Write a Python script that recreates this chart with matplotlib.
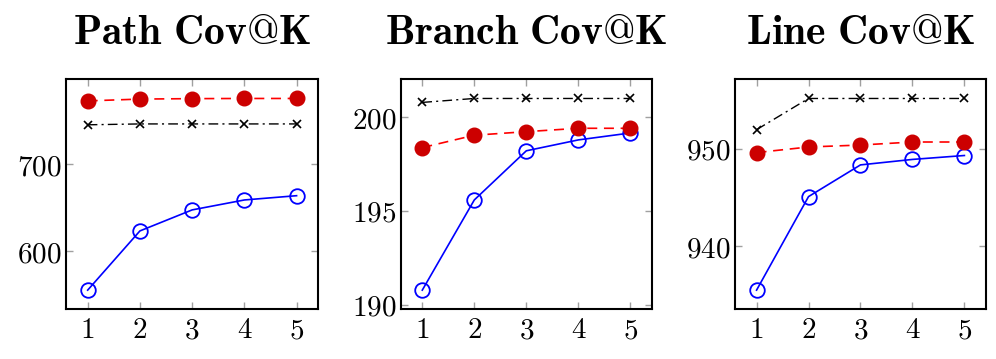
import matplotlib
matplotlib.use("Agg")
import matplotlib.pyplot as plt
from matplotlib.ticker import FuncFormatter

plt.rcParams['mathtext.fontset'] = 'cm'
plt.rcParams['font.family'] = ['DejaVu Serif']

k_values = [1, 2, 3, 4, 5]
titles = ["Path Cov@K", "Branch Cov@K", "Line Cov@K"]

path_blue = [555.4, 623.3, 647.4, 658.8, 663.7]
path_red = [772.4, 774.5, 775.0, 775.2, 775.2]
path_black = [745.0, 746.0, 746.0, 746.0, 746.0]

branch_blue = [190.77, 195.58, 198.2, 198.78, 199.15]
branch_red = [198.37, 199.03, 199.22, 199.4, 199.4]
branch_black = [200.78, 200.99, 200.99, 200.99, 200.99]

line_blue = [935.54, 945.1, 948.34, 948.9, 949.3]
line_red = [949.6, 950.17, 950.37, 950.68, 950.68]
line_black = [951.94, 955.13, 955.13, 955.13, 955.13]

yticks = [[600, 700], [190, 195, 200], [940, 950]]

panels = [
    (path_blue, path_red, path_black),
    (branch_blue, branch_red, branch_black),
    (line_blue, line_red, line_black),
]

W, H = 996, 359
fig = plt.figure(figsize=(W / 100, H / 100), dpi=100)

lefts = [66, 400.7, 735]
widths = [252, 251, 250.7]
top_px, bot_px = 79.3, 309.3

for i, (blue, red, black) in enumerate(panels):
    ax = fig.add_axes([lefts[i] / W, 1 - bot_px / H, widths[i] / W, (bot_px - top_px) / H])
    ax.plot(k_values, blue, color='#0000ff', lw=1.2, marker='o', ms=10.5,
            mfc='none', mec='#0000ff', mew=1.3, zorder=3)
    ax.plot(k_values, red, color='#ff0000', lw=1.2, ls=(0, (6, 4)), marker='o', ms=10.5,
            mfc='#cc0000', mec='#cc0000', zorder=3)
    ax.plot(k_values, black, color='black', lw=1.0, ls=(0, (7, 3, 1.5, 3)), marker='x', ms=6,
            mew=1.2, zorder=3)
    allv = blue + red + black
    lo, hi = min(allv), max(allv)
    pad = 0.1 * (hi - lo)
    ax.set_ylim(lo - pad, hi + pad)
    ax.set_xlim(0.585, 5.41)
    ax.set_xticks(k_values)
    ax.set_yticks(yticks[i])
    ax.xaxis.set_major_formatter(FuncFormatter(lambda v, p: f"${int(v)}$"))
    ax.yaxis.set_major_formatter(FuncFormatter(lambda v, p: f"${int(v)}$"))
    ax.tick_params(direction='in', length=5, width=1.0, color='#a0a0a0',
                   top=True, right=True, labelsize=21, pad=3)
    ax.tick_params(axis='x', pad=5)
    for sp in ax.spines.values():
        sp.set_linewidth(1.5)
        sp.set_color('black')
    cx = (lefts[i] + widths[i] / 2) / W
    fig.text(cx, 1 - 32 / H, r"$\mathbf{" + titles[i].replace(" ", r"\ ") + "}$",
             ha='center', va='center', fontsize=30)

fig.savefig("out.png", dpi=100)
